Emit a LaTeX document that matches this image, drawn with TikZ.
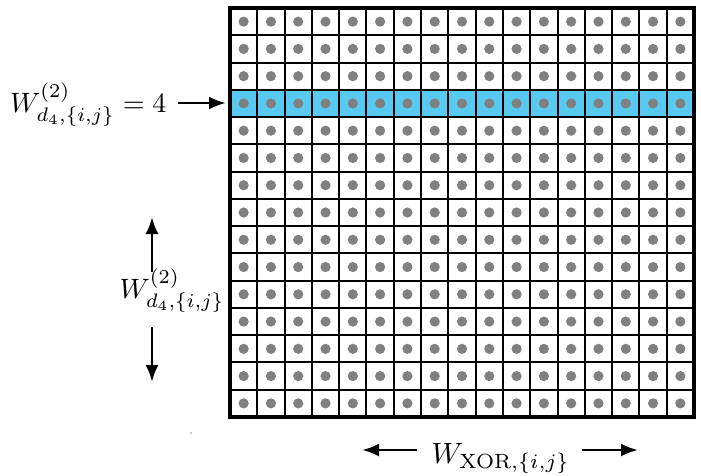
\documentclass[tikz,border=0pt]{standalone}
\usetikzlibrary{arrows.meta}
\definecolor{hl}{RGB}{88,202,242}
\definecolor{dotgray}{RGB}{128,128,128}
\begin{document}
\begin{tikzpicture}[x=1pt,y=-1pt,
  arr/.style={line width=2.8pt,-{Latex[length=17pt,width=13pt]}},
  lab/.style={scale=2.8,inner sep=0pt},
  gridline/.style={line width=2pt},
  dotc/.style={fill=dotgray}]
\useasboundingbox (0,0) rectangle (701,475);
% highlighted row
\fill[hl] (230,{8+3*409/15}) rectangle (694,{8+4*409/15});
% inner grid lines
\foreach \i in {1,...,16} \draw[gridline] ({230+\i*464/17},8) -- ++(0,409);
\foreach \j in {1,...,14} \draw[gridline] (230,{8+\j*409/15}) -- ++(464,0);
% dots
\foreach \i in {0,...,16} \foreach \j in {0,...,14}
  \fill[dotc] ({230+(\i+0.5)*464/17},{8+(\j+0.5)*409/15}) circle (5.1);
% outer frame
\node[draw,line width=3.5pt,minimum width=464pt,minimum height=409pt,inner sep=0pt] (grid) at (462,212.5) {};
% labels
\node[lab,anchor=base east] (lab1) at (167,112) {$W^{(2)}_{d_4,\{i,j\}}=4$};
\node[lab,anchor=base west] (lab2) at (119,298) {$W^{(2)}_{d_4,\{i,j\}}$};
\node[lab,scale=1.05,anchor=base west] (lab3) at (431,463) {$W_{\mathrm{XOR},\{i,j\}}$};
% arrow endpoints
\coordinate (r4) at (226,103);
\coordinate (up) at (152,217);
\coordinate (dn) at (152,382);
\coordinate (lt) at (362,450);
\coordinate (rt) at (638,450);
\draw[arr] (178,103) coordinate (a1) -- (r4);
\draw[arr] (152,272) coordinate (a2) -- (up);
\draw[arr] (152,327) coordinate (a3) -- (dn);
\draw[arr] (417,450) coordinate (a4) -- (lt);
\draw[arr] (582,450) coordinate (a5) -- (rt);
% stray mark
\fill[gray!60] (191,433) circle (1.2);
\end{tikzpicture}
\end{document}
